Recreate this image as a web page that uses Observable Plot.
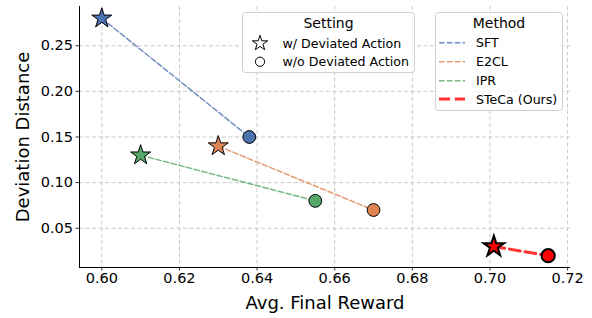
<!DOCTYPE html>
<html><head><meta charset="utf-8">
<script src="https://cdn.jsdelivr.net/npm/d3@7"></script>
<script src="https://cdn.jsdelivr.net/npm/@observablehq/plot@0.6"></script>
<style>
body{margin:0;background:#fff;}
#chart{position:relative;width:592px;height:318px;font-family:"DejaVu Sans",sans-serif;}
#chart svg.leg{position:absolute;overflow:visible;}
</style></head><body><div id="chart"></div>
<script>
const methods = ["SFT", "E2CL", "IPR", "STeCa (Ours)"];
const colors = ["#4C72B0", "#DD8452", "#55A868", "#FF0000"];
const rewardWith = [0.600, 0.630, 0.610, 0.701];
const distWith = [0.280, 0.140, 0.130, 0.030];
const rewardWithout = [0.638, 0.670, 0.655, 0.715];
const distWithout = [0.150, 0.070, 0.080, 0.020];
const xTicks = [0.60, 0.62, 0.64, 0.66, 0.68, 0.70, 0.72];
const yTicks = [0.05, 0.10, 0.15, 0.20, 0.25];
const settings = ["w/ Deviated Action", "w/o Deviated Action"];
const xLabel = "Avg. Final Reward";
const yLabel = "Deviation Distance";
const ours = "STeCa (Ours)";

const points = [];
methods.forEach((m, i) => {
  points.push({method: m, setting: settings[0], x: rewardWith[i], y: distWith[i]});
  points.push({method: m, setting: settings[1], x: rewardWithout[i], y: distWithout[i]});
});
const allX = points.map(d => d.x), allY = points.map(d => d.y);
const pad = (arr) => { const lo = d3.min(arr), hi = d3.max(arr), r = hi - lo; return [lo - 0.05 * r, hi + 0.05 * r]; };
const xDom = pad(allX), yDom = pad(allY);

const base = points.filter(d => d.method !== ours);
const mine = points.filter(d => d.method === ours);
const stars = d => d.setting === settings[0];

const chart = Plot.plot({
  width: 592, height: 318,
  marginLeft: 79, marginRight: 22, marginTop: 6, marginBottom: 51,
  style: {fontFamily: "DejaVu Sans, sans-serif", fontSize: "14.5px", color: "#000", background: "#fff"},
  x: {domain: xDom},
  y: {domain: yDom},
  color: {domain: methods, range: colors},
  marks: [
    Plot.gridX({ticks: xTicks, stroke: "#c4c4c4", strokeOpacity: 1, strokeWidth: 0.9, strokeDasharray: "4,2.5"}),
    Plot.gridY({ticks: yTicks, stroke: "#c4c4c4", strokeOpacity: 1, strokeWidth: 0.9, strokeDasharray: "4,2.5"}),
    Plot.ruleX([xDom[0]], {stroke: "#000", strokeWidth: 1}),
    Plot.ruleY([yDom[0]], {stroke: "#000", strokeWidth: 1}),
    Plot.axisX({ticks: xTicks, tickFormat: d => d.toFixed(2), tickSize: 3.5, tickPadding: 2, strokeWidth: 0.8, label: null, fontSize: 14.5}),
    Plot.axisY({ticks: yTicks, tickFormat: d => d.toFixed(2), tickSize: 3.5, tickPadding: 3, strokeWidth: 0.8, label: null, fontSize: 14.5}),
    Plot.line(base, {x: "x", y: "y", z: "method", stroke: "method", strokeWidth: 1.5, strokeOpacity: 0.8, strokeDasharray: "5.5,2.4"}),
    Plot.line(mine, {x: "x", y: "y", z: "method", stroke: "method", strokeWidth: 3, strokeOpacity: 0.8, strokeDasharray: "11,4.8"}),
    Plot.dot(base.filter(d => !stars(d)), {x: "x", y: "y", fill: "method", stroke: "#000", strokeWidth: 1, r: 6.4}),
    Plot.dot(base.filter(stars), {x: "x", y: "y", fill: "method", stroke: "#000", strokeWidth: 1, symbol: "star", r: 6.3}),
    Plot.dot(mine.filter(d => !stars(d)), {x: "x", y: "y", fill: "method", stroke: "#000", strokeWidth: 2, r: 6.6}),
    Plot.dot(mine.filter(stars), {x: "x", y: "y", fill: "method", stroke: "#000", strokeWidth: 2, symbol: "star", r: 6.5}),
    Plot.text([xLabel], {frameAnchor: "bottom", lineAnchor: "middle", dy: 36, fontSize: 18, fill: "#000"}),
    Plot.text([yLabel], {frameAnchor: "left", lineAnchor: "middle", textAnchor: "middle", dx: -56, rotate: -90, fontSize: 18, fill: "#000"})
  ]
});
const host = document.getElementById("chart");
host.appendChild(chart);

function legendBox(left, top, w, h) {
  const svg = d3.select(host).append("svg").attr("class", "leg")
    .style("left", left + "px").style("top", top + "px")
    .attr("width", w).attr("height", h);
  svg.append("rect").attr("x", 0.5).attr("y", 0.5).attr("width", w - 1).attr("height", h - 1)
    .attr("rx", 3).attr("fill", "#fff").attr("fill-opacity", 0.8).attr("stroke", "#d0d0d0");
  return svg;
}
// Setting legend
{
  const w = 173, h = 61;
  const svg = legendBox(242, 12, w, h);
  svg.append("text").attr("x", w / 2).attr("y", 11).attr("text-anchor", "middle")
    .attr("dominant-baseline", "central").attr("font-size", 14).text("Setting");
  const rows = [31.3, 49.7];
  const syms = [d3.symbol(d3.symbolStar, Math.PI * 4.8 * 4.8)(), d3.symbol(d3.symbolCircle, Math.PI * 4.6 * 4.6)()];
  settings.forEach((s, i) => {
    svg.append("path").attr("d", syms[i]).attr("transform", `translate(18,${rows[i]})`)
      .attr("fill", "#fff").attr("stroke", "#000").attr("stroke-width", 1);
    svg.append("text").attr("x", 40.5).attr("y", rows[i]).attr("dominant-baseline", "central")
      .attr("font-size", 12.6).text(s);
  });
}
// Method legend
{
  const w = 128, h = 99;
  const svg = legendBox(435, 12, w, h);
  svg.append("text").attr("x", w / 2).attr("y", 11).attr("text-anchor", "middle")
    .attr("dominant-baseline", "central").attr("font-size", 14).text("Method");
  const rows = [30.7, 49.7, 68.7, 87];
  methods.forEach((m, i) => {
    const isOurs = m === ours;
    svg.append("line").attr("x1", 4).attr("x2", 30).attr("y1", rows[i]).attr("y2", rows[i])
      .attr("stroke", colors[i]).attr("stroke-opacity", 0.8)
      .attr("stroke-width", isOurs ? 3 : 1.5)
      .attr("stroke-dasharray", isOurs ? "11,4.8" : "5.5,2.4");
    svg.append("text").attr("x", 41).attr("y", rows[i]).attr("dominant-baseline", "central")
      .attr("font-size", 12.6).text(m);
  });
}
</script></body></html>
